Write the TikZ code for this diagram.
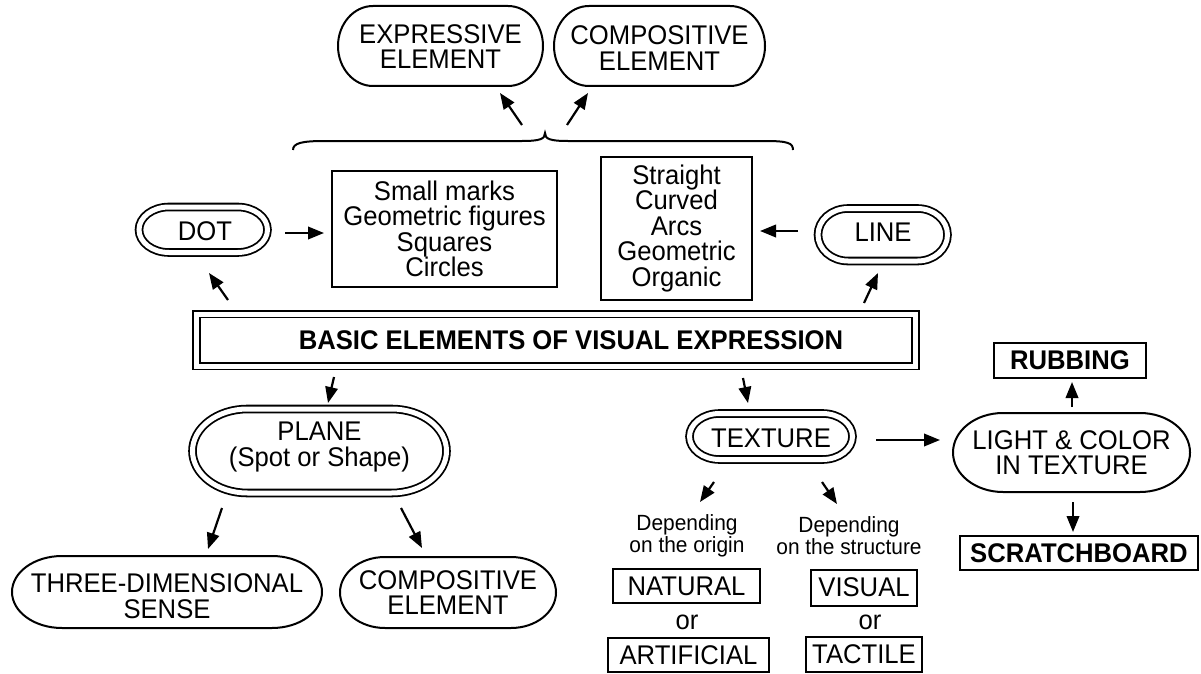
\documentclass[tikz,border=0pt]{standalone}
\usepackage{fontspec}
\setmainfont{Liberation Sans}[FakeStretch=0.95]
\usetikzlibrary{arrows.meta}
\tikzset{
  big/.style={font=\fontsize{27}{25.5}\selectfont, inner sep=0pt, align=center},
  small/.style={font=\fontsize{22}{22}\selectfont, inner sep=0pt, align=center},
  boldbig/.style={font=\bfseries\fontsize{27}{25.5}\selectfont, inner sep=0pt, align=center},
  box/.style={draw, line width=2pt, inner sep=0pt},
  single/.style={draw, line width=2pt},
  dbl/.style={draw, line width=1.8pt, double, double distance=5pt},
  arr/.style={line width=2.2pt, -{Triangle[length=16pt,width=12.5pt]}},
}
% 1 style, 2 cx, 3 cy, 4 half width, 5 half height, 6 end x-radius
\newcommand\pillshape[6]{%
  \draw[#1] ({#2-#4+#6},{#3-#5}) -- ({#2+#4-#6},{#3-#5})
    arc[start angle=-90,end angle=90,x radius=#6,y radius=#5]
    -- ({#2-#4+#6},{#3+#5})
    arc[start angle=90,end angle=270,x radius=#6,y radius=#5] -- cycle;}
\begin{document}
\begin{tikzpicture}[x=1pt,y=1pt,yscale=-1]
\useasboundingbox (0,0) rectangle (1201,674);

% top ovals
\pillshape{single}{440.5}{46}{102.5}{40}{35}
\node[big] (expr) at (440.5,46.5) {EXPRESSIVE\\ELEMENT};
\pillshape{single}{659.5}{46}{105.5}{40}{35}
\node[big] (comptop) at (659.5,48) {COMPOSITIVE\\ELEMENT};

% brace
\draw[line width=2pt] (293,150) .. controls (293,143) and (302,141) .. (325,141)
  -- (522,141) .. controls (540,141) and (545,139) .. (545,133)
  .. controls (545,139) and (550,141) .. (568,141)
  -- (765,141) .. controls (788,141) and (793,143) .. (793,150);

% DOT row
\pillshape{dbl}{203.25}{229.75}{64.25}{22.75}{30}
\node[big] (dot) at (205,231) {DOT};
\node[box, big, minimum width=225pt, minimum height=116pt] (dotbox) at (444.5,229)
  {Small marks\\Geometric figures\\Squares\\Circles};
\node[box, big, minimum width=151pt, minimum height=143pt] (linebox) at (676.5,228.5)
  {Straight\\Curved\\Arcs\\Geometric\\Organic};
\pillshape{dbl}{882.75}{234.75}{64.75}{26.25}{30}
\node[big] (line) at (883,232.5) {LINE};

% central box
\node[dbl, boldbig, minimum width=719pt, minimum height=52pt] (basic) at (556,340)
  {\hspace*{30pt}BASIC ELEMENTS OF VISUAL EXPRESSION};

% plane branch
\pillshape{dbl}{319.5}{451}{127}{42}{55}
\node[big] (plane) at (319.5,447) {PLANE\\(Spot or Shape)};
\pillshape{single}{167}{592}{155}{36}{50}
\node[big] (three) at (167,596) {THREE-DIMENSIONAL\\SENSE};
\pillshape{single}{448}{592.5}{108}{35.5}{45}
\node[big] (compbot) at (448,592.5) {COMPOSITIVE\\ELEMENT};

% texture branch
\pillshape{dbl}{771}{436.5}{81.5}{23}{30}
\node[big] (texture) at (771,438.5) {TEXTURE};
\pillshape{single}{1071.5}{452.5}{118.5}{39.5}{50}
\node[big] (light) at (1071.5,452.5) {LIGHT \& COLOR\\IN TEXTURE};
\node[box, boldbig, minimum width=152pt, minimum height=35pt] (rub) at (1070,360.5) {RUBBING};
\node[box, boldbig, minimum width=238pt, minimum height=34pt] (scratch) at (1079,553) {SCRATCHBOARD};

\node[small] (dep1) at (687,536) {Depending\\on the origin};
\node[small] (dep2) at (849,536) {Depending\\on the structure};
\node[box, big, minimum width=147pt, minimum height=34pt] (natural) at (686.5,586) {NATURAL};
\node[big] (or1) at (687,622) {or};
\node[box, big, minimum width=161pt, minimum height=34pt] (artificial) at (688.5,655) {ARTIFICIAL};
\node[box, big, minimum width=106pt, minimum height=36pt] (visual) at (864,587.5) {VISUAL};
\node[big] (or2) at (870,622) {or};
\node[box, big, minimum width=116pt, minimum height=35pt] (tactile) at (864,654.5) {TACTILE};

% arrow end points
\coordinate (b1) at (522,125);  \coordinate (b1h) at (500,93);
\coordinate (b2) at (567,125);  \coordinate (b2h) at (588,93);
\coordinate (d1) at (285,233);  \coordinate (d1h) at (324,233);
\coordinate (l1) at (798,231);  \coordinate (l1h) at (760,231);
\coordinate (s1) at (228,300);  \coordinate (s1h) at (209,273);
\coordinate (s2) at (864,303);  \coordinate (s2h) at (878,273);
\coordinate (s3) at (334,377);  \coordinate (s3h) at (328,403);
\coordinate (s4) at (743,378);  \coordinate (s4h) at (748,403);
\coordinate (p1) at (222,508);  \coordinate (p1h) at (208,549);
\coordinate (p2) at (401,508);  \coordinate (p2h) at (422,548);
\coordinate (t1) at (876,440);  \coordinate (t1h) at (940,440);
\coordinate (t2) at (714,482);  \coordinate (t2h) at (700,502);
\coordinate (t3) at (822,482);  \coordinate (t3h) at (837,504);
\coordinate (c1) at (1072,407); \coordinate (c1h) at (1072,382);
\coordinate (c2) at (1073,502); \coordinate (c2h) at (1073,532);

\foreach \a in {b1,b2,d1,l1,s1,s2,s3,s4,p1,p2,t1,t2,t3,c1,c2}
  \draw[arr] (\a) -- (\a h);
\end{tikzpicture}
\end{document}
